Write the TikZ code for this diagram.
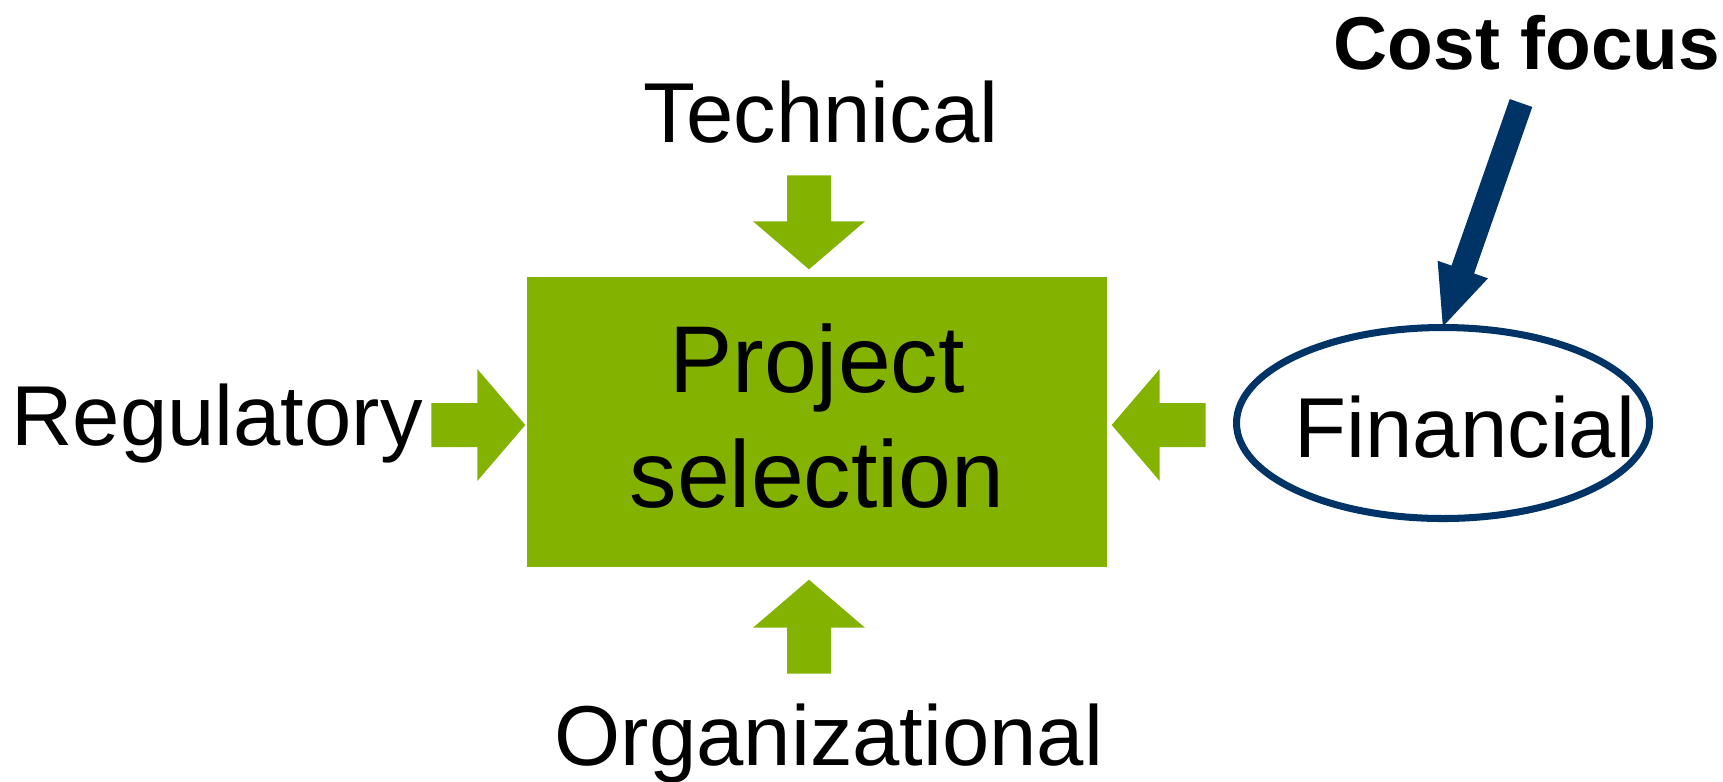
\documentclass[tikz,border=0pt]{standalone}
\usepackage{fontspec}
\setmainfont{Liberation Sans}
\usetikzlibrary{arrows.meta,positioning,calc,shapes.geometric}
\definecolor{selgreen}{HTML}{84B200}
\definecolor{costblue}{HTML}{003366}

\begin{document}
\begin{tikzpicture}[
		factor/.style={font=\fontsize{24.2pt}{29pt}\selectfont, inner sep=0pt, anchor=base},
		selbox/.style={fill=selgreen, minimum width=5.8cm, minimum height=2.9cm, align=center, inner sep=0pt, text depth=0.12cm, font=\fontsize{27pt}{32.7pt}\selectfont},
		finoval/.style={ellipse, draw=costblue, line width=2pt, minimum width=4.13cm, minimum height=1.91cm, inner sep=0pt},
		costarrow/.style={draw=costblue, line width=6.8pt, -{Triangle[length=6.3mm, width=4.8mm]}},
		inarrow/.pic={
			\fill[selgreen] (0,-0.22) -- (0.46,-0.22) -- (0.46,-0.56) -- (0.94,0)
			-- (0.46,0.56) -- (0.46,0.22) -- (0,0.22) -- cycle;
		}
		]
		
		\useasboundingbox (0,0) rectangle (17.23,-7.81);
		
		% Central box
		\node[selbox] (sel) at (8.17,-4.22) {Project\\selection};
		
		% Factors around it
		\node[factor] (tech) at (8.21,-1.42) {Technical};
		\node[factor] (reg) at (2.17,-4.45) {Regulatory};
		\node[factor] (org) at (8.29,-7.65) {Organizational};
		
		\node[finoval] (fin) at (14.43,-4.23) {};
		\node[factor] (fintext) at (14.65,-4.57) {Financial};
		
		\node[factor, font=\fontsize{21.3pt}{26pt}\selectfont\bfseries] (cost) at (15.27,-0.69) {Cost focus};
		\coordinate (costtail) at (15.21,-1.03);
		
		% Block arrows into the box
		\pic at ($(sel.west)+(-0.95,-0.03)$) {inarrow};
		\pic[rotate=180] at ($(sel.east)+(0.98,-0.03)$) {inarrow};
		\pic[rotate=-90] at ($(sel.north)+(-0.08,1.01)$) {inarrow};
		\pic[rotate=90] at ($(sel.south)+(-0.08,-1.06)$) {inarrow};
		
		% Arrow
		\draw[costarrow] (costtail) -- ($(fin.north)+(-0.01,-0.05)$);
		
	\end{tikzpicture}
\end{document}
